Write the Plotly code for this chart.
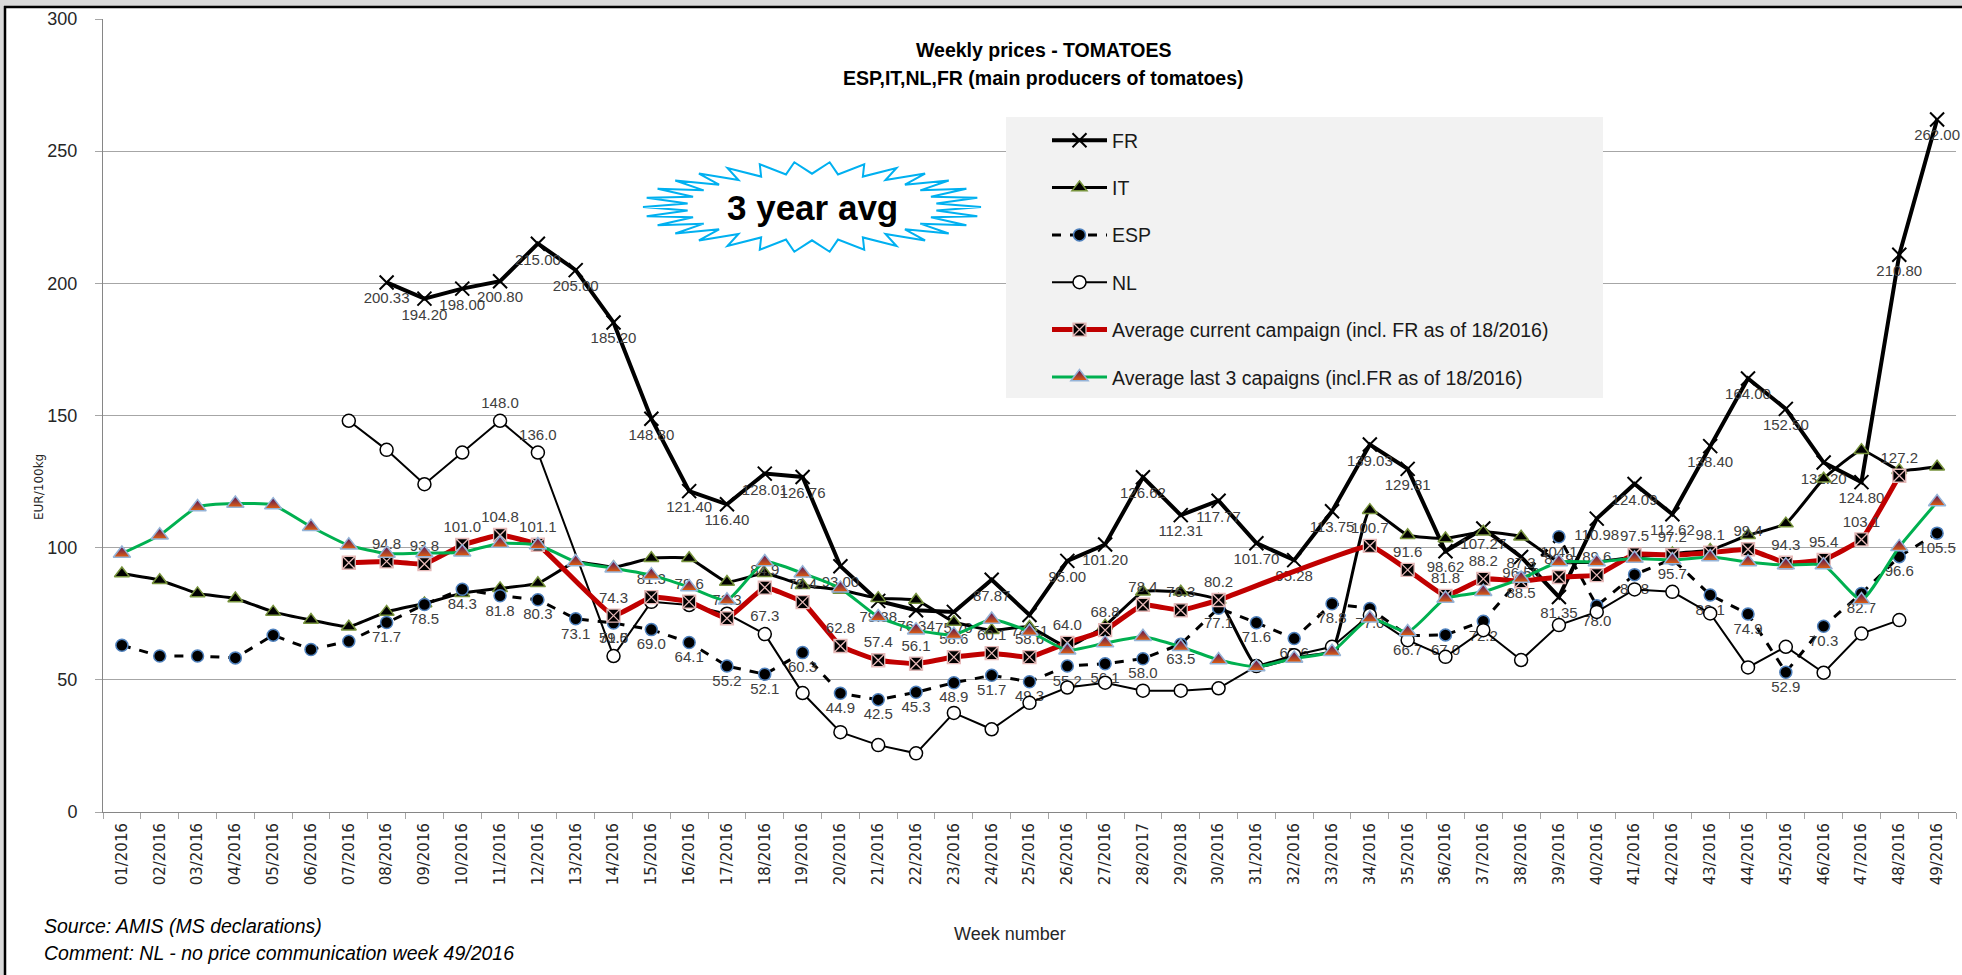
import numpy as np
import plotly.graph_objects as go

weeks = ["01/2016", "02/2016", "03/2016", "04/2016", "05/2016", "06/2016", "07/2016",
         "08/2016", "09/2016", "10/2016", "11/2016", "12/2016", "13/2016", "14/2016",
         "15/2016", "16/2016", "17/2016", "18/2016", "19/2016", "20/2016", "21/2016",
         "22/2016", "23/2016", "24/2016", "25/2016", "26/2016", "27/2016", "28/2017",
         "29/2018", "30/2016", "31/2016", "32/2016", "33/2016", "34/2016", "35/2016",
         "36/2016", "37/2016", "38/2016", "39/2016", "40/2016", "41/2016", "42/2016",
         "43/2016", "44/2016", "45/2016", "46/2016", "47/2016", "48/2016", "49/2016"]

FR = [None] * 7 + [200.33, 194.20, 198.00, 200.80, 215.00, 205.00, 185.20, 148.80, 121.40,
                   116.40, 128.01, 126.76, 93.00, 79.88, 76.34, 75.70, 87.87, 74.51, 95.00,
                   101.20, 126.62, 112.31, 117.77, 101.70, 95.28, 113.75, 139.03, 129.81,
                   98.62, 107.27, 96.50, 81.35, 110.98, 124.09, 112.62, 138.40, 164.00,
                   152.50, 132.20, 124.80, 210.80, 262.00]

IT = [90.2, 87.7, 82.7, 80.8, 75.7, 72.6, 70.1, 75.7, 78.9, 82.8, 84.6, 86.5, 94.6, 92.6,
      96.0, 96.0, 87.0, 90.3, 85.8, 84.0, 80.9, 80.2, 71.9, 68.8, 70.0, 62.5, 70.5, 83.3,
      83.3, 80.2, 55.0, 58.5, 61.0, 114.2, 104.7, 103.5, 106.0, 104.1, 94.6, 94.6, 96.5,
      97.8, 99.1, 104.7, 109.1, 126.1, 136.9, 129.3, 130.6]

ESP = [63.1, 59.0, 59.0, 58.3, 66.9, 61.5, 64.6, 71.7, 78.5, 84.3, 81.8, 80.3, 73.1, 71.5,
       69.0, 64.1, 55.2, 52.1, 60.3, 44.9, 42.5, 45.3, 48.9, 51.7, 49.3, 55.2, 56.1, 58.0,
       63.5, 77.1, 71.6, 65.6, 78.8, 77.0, 66.7, 67.0, 72.2, 88.5, 104.1, 78.0, 89.8, 95.7,
       82.1, 74.9, 52.9, 70.3, 82.7, 96.6, 105.5]

NL = [None] * 6 + [148.0, 137.0, 124.0, 136.0, 148.0, 136.0, None, 59.0, 79.5, 78.3, 75.0,
                   67.3, 45.0, 30.2, 25.3, 22.2, 37.5, 31.3, 41.3, 47.1, 48.9, 45.9, 45.9,
                   46.8, 55.2, 59.3, 62.5, 74.5, 65.0, 58.7, 68.8, 57.5, 70.7, 75.7, 84.2,
                   83.3, 75.1, 54.7, 62.5, 52.7, 67.5, 72.6, None]

AVG_CUR = [None] * 6 + [94.3, 94.8, 93.8, 101.0, 104.8, 101.1, None, 74.3, 81.3, 79.6, 73.3,
                        84.9, 79.4, 62.8, 57.4, 56.1, 58.6, 60.1, 58.6, 64.0, 68.8, 78.4, 76.3,
                        80.2, None, None, None, 100.7, 91.6, 81.8, 88.2, 87.3, 88.9, 89.6,
                        97.5, 97.2, 98.1, 99.4, 94.3, 95.4, 103.1, 127.2, None]

AVG_3Y = [97.8, 104.7, 115.4, 116.7, 116.1, 107.9, 100.9, 97.8, 98.0, 98.3, 101.6, 101.0,
          94.6, 92.2, 89.6, 85.1, 80.1, 94.6, 90.3, 84.6, 73.8, 68.8, 67.1, 72.8, 68.3, 61.2,
          63.9, 66.3, 62.5, 57.5, 54.9, 58.1, 60.6, 73.3, 68.1, 80.8, 83.3, 88.3, 94.6, 94.6,
          95.9, 95.3, 96.5, 94.6, 93.4, 93.4, 80.2, 100.3, 117.3]

# weeks (1-based) whose data label is shown
NL_LABEL_WEEKS = [11, 12, 14, 18]
LABEL_FROM_WEEK = 8


def labels(vals, fmt, weeks_shown=None):
    out = []
    for i, v in enumerate(vals):
        wk = i + 1
        show = v is not None and (wk in weeks_shown if weeks_shown else wk >= LABEL_FROM_WEEK)
        out.append(fmt.format(v) if show else "")
    return out


W, H = 1962, 975
L, R, T, B = 103, 6, 19, 163
PW, PH = W - L - R, H - T - B


def px(x):
    return (x - L) / PW


def py(y):
    return (H - B - y) / PH


LBL = dict(size=15, color="#404040", family="Liberation Sans")

fig = go.Figure()
fig.add_trace(go.Scatter(
    x=weeks, y=FR, name="FR", legendgroup="a", mode="lines+markers+text",
    line=dict(color="black", width=4),
    marker=dict(symbol="x-thin", size=14, color="black", line=dict(color="black", width=2)),
    text=labels(FR, "{:.2f}"), textposition="bottom center", textfont=LBL, cliponaxis=False))
fig.add_trace(go.Scatter(
    x=weeks, y=IT, name="IT", legendgroup="b", mode="lines+markers",
    line=dict(color="black", width=3, shape="spline", smoothing=0.4),
    marker=dict(symbol="triangle-up", size=13, color="black", line=dict(color="#77933c", width=1.5)),
    cliponaxis=False))
fig.add_trace(go.Scatter(
    x=weeks, y=ESP, name="ESP", legendgroup="c", mode="lines+markers+text",
    line=dict(color="black", width=3, dash="dash"),
    marker=dict(symbol="circle", size=12, color="black", line=dict(color="#4f81bd", width=1.5)),
    text=labels(ESP, "{:.1f}"), textposition="bottom center", textfont=LBL, cliponaxis=False))
fig.add_trace(go.Scatter(
    x=weeks, y=NL, name="NL", legendgroup="d", mode="lines+markers+text", connectgaps=True,
    line=dict(color="black", width=2),
    marker=dict(symbol="circle", size=13, color="white", line=dict(color="black", width=1.5)),
    text=labels(NL, "{:.1f}", NL_LABEL_WEEKS), textposition="top center", textfont=LBL,
    cliponaxis=False))
fig.add_trace(go.Scatter(
    x=weeks, y=AVG_CUR, name="Average current campaign (incl. FR as of 18/2016)", legendgroup="e",
    mode="lines+markers+text", connectgaps=True,
    line=dict(color="#c00000", width=5, shape="spline", smoothing=0.3),
    marker=dict(symbol="square-x", size=13, color="black", line=dict(color="#e6b9b8", width=1.3)),
    text=labels(AVG_CUR, "{:.1f}"), textposition="top center", textfont=LBL, cliponaxis=False))
fig.add_trace(go.Scatter(
    x=weeks, y=AVG_3Y, name="Average last 3 capaigns (incl.FR as of 18/2016)", legendgroup="f",
    mode="lines+markers",
    line=dict(color="#00b050", width=3, shape="spline", smoothing=0.5),
    marker=dict(symbol="triangle-up", size=15, color="#4b1060",
                gradient=dict(type="vertical", color="#e4600c"),
                line=dict(color="#95b3d7", width=1.5)),
    cliponaxis=False))

# starburst "3 year avg"
cx, cy, rx, ry, n = 812, 207, 169, 45, 30
path = []
for k in range(2 * n):
    a = np.pi * k / n
    r = 1.0 if k % 2 == 0 else 0.74
    path.append((px(cx + rx * r * np.cos(a)), py(cy - ry * r * np.sin(a))))
path_str = "M " + " L ".join(f"{a:.5f},{b:.5f}" for a, b in path) + " Z"

shapes = [
    dict(type="rect", xref="paper", yref="paper", x0=px(1006), x1=px(1603), y0=py(398), y1=py(117),
         fillcolor="#f2f2f2", line=dict(width=0), layer="above"),
    dict(type="path", xref="paper", yref="paper", path=path_str, fillcolor="white",
         line=dict(color="#00b0f0", width=2), layer="above"),
    dict(type="rect", xref="paper", yref="paper", x0=px(0), x1=px(W), y0=py(0), y1=py(6),
         fillcolor="#d9d9d9", line=dict(width=0), layer="above"),
    dict(type="rect", xref="paper", yref="paper", x0=px(0), x1=px(4), y0=py(H), y1=py(0),
         fillcolor="#d9d9d9", line=dict(width=0), layer="above"),
    dict(type="line", xref="paper", yref="paper", x0=px(4), x1=px(W), y0=py(7), y1=py(7),
         line=dict(color="black", width=2.5), layer="above"),
    dict(type="line", xref="paper", yref="paper", x0=px(5), x1=px(5), y0=py(6), y1=py(H),
         line=dict(color="black", width=2.5), layer="above"),
]

ann = [
    dict(text="<b>Weekly prices - TOMATOES</b>", x=px(1043), y=py(50)),
    dict(text="<b>ESP,IT,NL,FR (main producers of tomatoes)</b>", x=px(1043), y=py(78)),
]
for a in ann:
    a.update(xref="paper", yref="paper", showarrow=False, xanchor="center", yanchor="middle",
             font=dict(size=19.5, family="Liberation Sans", color="black"))
ann += [
    dict(text="<b>3 year avg</b>", x=px(cx), y=py(cy + 1), xref="paper", yref="paper",
         showarrow=False, xanchor="center", yanchor="middle",
         font=dict(size=35, family="Liberation Sans", color="black")),
    dict(text="EUR/100kg", x=px(39), y=py(487), xref="paper", yref="paper", textangle=-90,
         showarrow=False, xanchor="center", yanchor="middle",
         font=dict(size=12, family="DejaVu Sans", color="#262626")),
    dict(text="Week number", x=px(1010), y=py(934), xref="paper", yref="paper",
         showarrow=False, xanchor="center", yanchor="middle",
         font=dict(size=18, family="Liberation Sans", color="#262626")),
    dict(text="<i>Source: AMIS (MS declarations)</i>", x=px(42), y=py(926), xref="paper",
         yref="paper", showarrow=False, xanchor="left", yanchor="middle",
         font=dict(size=19.5, family="Liberation Sans", color="black")),
    dict(text="<i>Comment: NL - no price communication week 49/2016</i>", x=px(42), y=py(953),
         xref="paper", yref="paper", showarrow=False, xanchor="left", yanchor="middle",
         font=dict(size=19.5, family="Liberation Sans", color="black")),
]

fig.update_layout(
    width=W, height=H, margin=dict(l=L, r=R, t=T, b=B, autoexpand=False),
    plot_bgcolor="white", paper_bgcolor="white", hovermode=False,
    shapes=shapes, annotations=ann,
    legend=dict(x=px(1047), y=py(121), xanchor="left", yanchor="top",
                bgcolor="rgba(0,0,0,0)", traceorder="grouped", tracegroupgap=19,
                itemwidth=55, font=dict(size=19.5, family="Liberation Sans", color="#1a1a1a")),
    xaxis=dict(type="category", categoryorder="array", categoryarray=weeks,
               range=[-0.5, len(weeks) - 0.5], tickangle=-90,
               tickfont=dict(size=15, family="DejaVu Sans", color="#262626"),
               ticks="outside", tickson="boundaries", ticklen=6, tickcolor="#a6a6a6",
               showline=True, linecolor="#868686", linewidth=1, showgrid=False,
               ticklabelstandoff=4),
    yaxis=dict(range=[0, 300], dtick=50, tickfont=dict(size=18, family="Liberation Sans",
                                                     color="#262626"),
               ticks="outside", ticklen=7, tickcolor="#a6a6a6", showline=True,
               linecolor="#868686", linewidth=1, gridcolor="#a6a6a6", gridwidth=1,
               zeroline=False, ticklabelstandoff=14),
)

fig.write_html("out.html", config={"displayModeBar": False},
               post_script="document.body.style.margin='0px';document.body.style.overflow='hidden';")
